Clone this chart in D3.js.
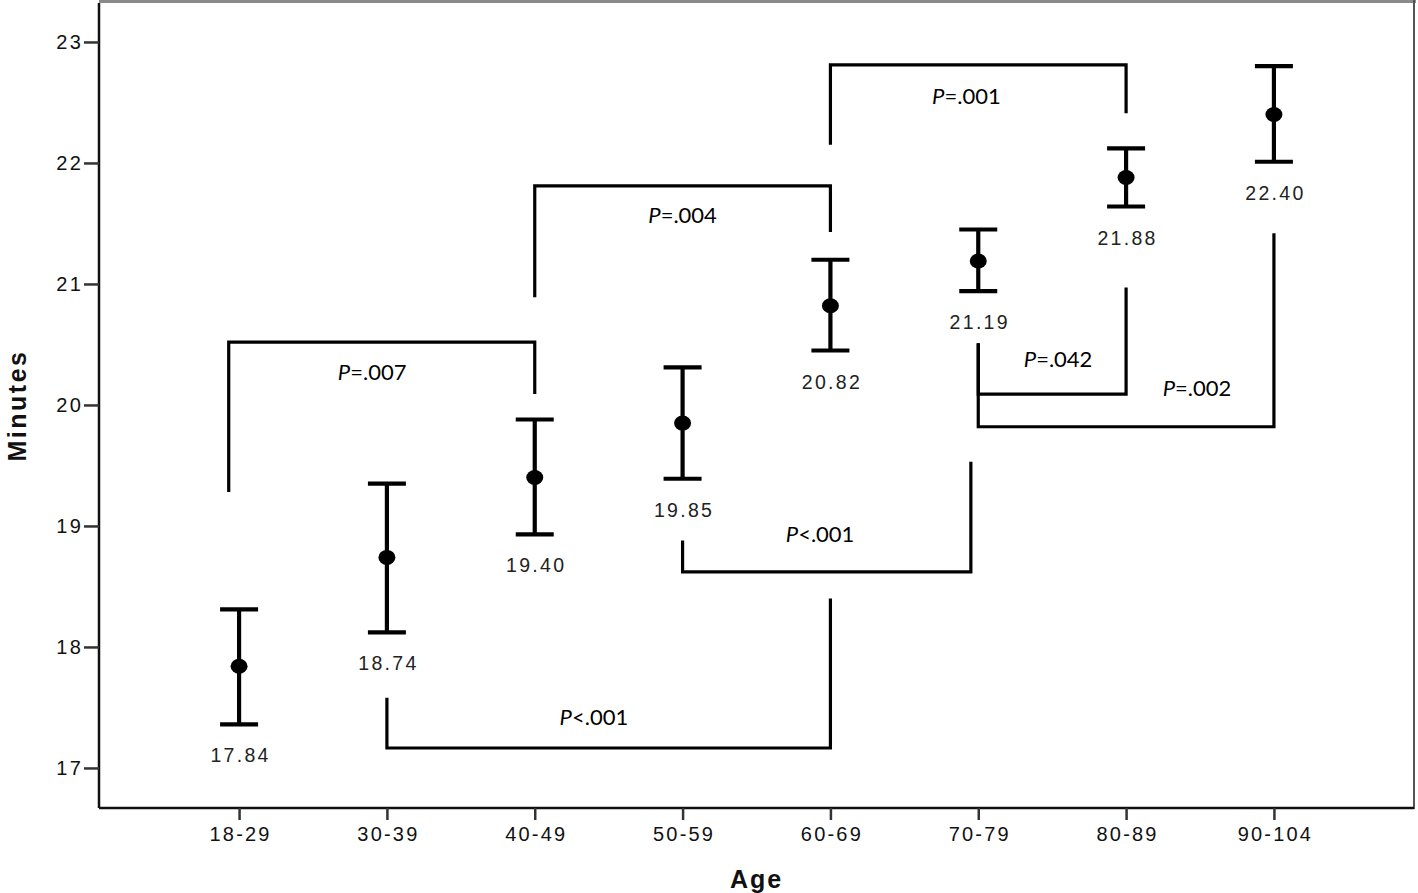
<!DOCTYPE html>
<html><head><meta charset="utf-8">
<script src="https://cdn.jsdelivr.net/npm/d3@7"></script>
<style>body{margin:0;background:#fff}svg{display:block}</style>
</head><body>
<svg id="c" width="1418" height="893"></svg>
<script>
// ---- data ----
const categories = ["18-29","30-39","40-49","50-59","60-69","70-79","80-89","90-104"];
const means = [17.84,18.74,19.40,19.85,20.82,21.19,21.88,22.40];
const lower = [17.36,18.12,18.93,19.39,20.45,20.94,21.64,22.01];
const upper = [18.31,19.35,19.88,20.31,21.20,21.45,22.12,22.80];
const yTicks = [17,18,19,20,21,22,23];
// comparison brackets: ends as category index, heights in minutes
const brackets = [
  {x1:-0.07, x2:2, bar:20.52, end1:19.28, end2:20.09, sign:"=", p:".007", lx:0.90, ly:20.21},
  {x1:2, x2:4, bar:21.81, end1:20.89, end2:21.43, sign:"=", p:".004", lx:3.00, ly:21.50},
  {x1:4, x2:6, bar:22.81, end1:22.15, end2:22.41, sign:"=", p:".001", lx:4.92, ly:22.49},
  {x1:1, x2:4, bar:17.165, end1:17.58, end2:18.40, sign:"<", p:".001", lx:2.40, ly:17.355},
  {x1:3, x2:4.95, bar:18.62, end1:18.88, end2:19.53, sign:"<", p:".001", lx:3.93, ly:18.87},
  {x1:5, x2:6, bar:20.09, end1:20.51, end2:20.97, sign:"=", p:".042", lx:5.54, ly:20.31},
  {x1:5, x2:7, bar:19.82, end1:20.51, end2:21.42, sign:"=", p:".002", lx:6.48, ly:20.07}
];

// ---- layout ----
const L = 99, R = 1414, T = 3, B = 808;
const svg = d3.select("#c");
const x = d3.scalePoint().domain(categories).range([L, R]).padding(0.9475);
const xi = i => x(categories[0]) + i * x.step();
const y = d3.scaleLinear().domain([16.669, 23.322]).range([B, T]);

// frame: top and right
svg.append("rect").attr("x", L).attr("y", 0).attr("width", R - L + 2).attr("height", 3).attr("fill", "#8a8a8a");
svg.append("line").attr("x1", R).attr("x2", R).attr("y1", 0).attr("y2", B + 1)
  .attr("stroke", "#555").attr("stroke-width", 2);

// axes
const yAxis = svg.append("g").attr("transform", `translate(${L},0)`)
  .call(d3.axisLeft(y).tickValues(yTicks).tickSize(15).tickPadding(3).tickFormat(d3.format("d")));
const xAxis = svg.append("g").attr("transform", `translate(0,${B})`)
  .call(d3.axisBottom(x).tickSize(12).tickPadding(7));
[yAxis, xAxis].forEach(g => {
  g.select(".domain").attr("stroke", "#111").attr("stroke-width", 2.5);
  g.selectAll(".tick line").attr("stroke", "#333").attr("stroke-width", 2.5);
  g.selectAll(".tick text").attr("fill", "#111")
    .style("font-family", "'Liberation Sans', Arial, sans-serif")
    .style("font-size", "20px").style("letter-spacing", "2.2px");
});
yAxis.select(".domain").attr("d", `M0,${B}V${T}`);
xAxis.select(".domain").attr("d", `M${L},0H${R}`);
xAxis.selectAll(".tick text").attr("dx", "1px");
yAxis.selectAll(".tick text").attr("dx", "2px");

// axis titles
svg.append("text").attr("x", (L + R) / 2).attr("y", 888).attr("text-anchor", "middle")
  .style("font-family", "'Liberation Sans', Arial, sans-serif").style("font-weight", "bold")
  .style("font-size", "25px").style("letter-spacing", "2px").attr("fill", "#111").text("Age");
svg.append("text").attr("transform", `translate(26,${(T + B) / 2}) rotate(-90)`).attr("text-anchor", "middle")
  .style("font-family", "'Liberation Sans', Arial, sans-serif").style("font-weight", "bold")
  .style("font-size", "25px").style("letter-spacing", "2.5px").attr("fill", "#111").text("Minutes");

// brackets
const bg = svg.append("g").attr("fill", "none").attr("stroke", "#000").attr("stroke-width", 3.2)
  .attr("stroke-linejoin", "miter");
bg.selectAll("path").data(brackets).join("path")
  .attr("d", d => `M${xi(d.x1)},${y(d.end1)}V${y(d.bar)}H${xi(d.x2)}V${y(d.end2)}`);
const lt = svg.append("g").selectAll("text").data(brackets).join("text")
  .attr("x", d => xi(d.lx)).attr("y", d => y(d.ly)).attr("text-anchor", "middle")
  .style("font-family", "Lato, 'Open Sans', sans-serif").style("font-size", "22px").attr("fill", "#000");
lt.append("tspan").style("font-style", "italic").text("P");
lt.append("tspan").text(d => d.sign + d.p);

// error bars
const eg = svg.append("g").attr("stroke", "#000").attr("stroke-width", 4.2);
const idx = d3.range(categories.length);
eg.selectAll("line.v").data(idx).join("line").attr("class", "v")
  .attr("x1", i => x(categories[i])).attr("x2", i => x(categories[i]))
  .attr("y1", i => y(lower[i])).attr("y2", i => y(upper[i]));
eg.selectAll("line.u").data(idx).join("line").attr("class", "u")
  .attr("x1", i => x(categories[i]) - 19).attr("x2", i => x(categories[i]) + 19)
  .attr("y1", i => y(upper[i])).attr("y2", i => y(upper[i]));
eg.selectAll("line.l").data(idx).join("line").attr("class", "l")
  .attr("x1", i => x(categories[i]) - 19).attr("x2", i => x(categories[i]) + 19)
  .attr("y1", i => y(lower[i])).attr("y2", i => y(lower[i]));
svg.append("g").selectAll("ellipse").data(idx).join("ellipse")
  .attr("cx", i => x(categories[i])).attr("cy", i => y(means[i]))
  .attr("rx", 8.5).attr("ry", 7.5).attr("fill", "#000");

// value labels
svg.append("g").selectAll("text").data(idx).join("text")
  .attr("x", i => x(categories[i]) + 1.5).attr("y", i => y(lower[i]) + 38)
  .attr("text-anchor", "middle")
  .style("font-family", "'Liberation Sans', Arial, sans-serif").style("font-size", "19.5px")
  .style("letter-spacing", "2.3px").attr("fill", "#222")
  .text(i => means[i].toFixed(2));
</script>
</body></html>
